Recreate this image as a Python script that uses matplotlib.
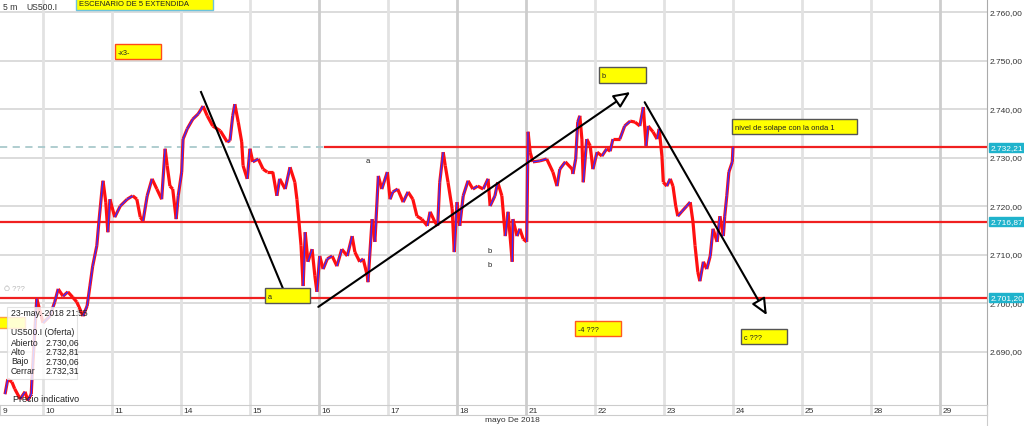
import matplotlib
matplotlib.use('Agg')
import matplotlib.pyplot as plt
from matplotlib.collections import LineCollection
from matplotlib.patches import Rectangle

plt.rcParams['font.family'] = ['Liberation Sans', 'DejaVu Sans']

# trading-day axis: 0 = 10 may, 1 = 11 may, 2 = 14 may ...
day_pos = list(range(-1, 14))
day_labels = ['9', '10', '11', '14', '15', '16', '17', '18', '21', '22', '23', '24', '25', '28', '29']
dark_days = [4, 6, 7, 13]

yticks = [2690, 2700, 2710, 2720, 2730, 2740, 2750, 2760]

# US500.I 5m closes
t = [-0.55, -0.51, -0.45, -0.41, -0.33, -0.26, -0.22, -0.17, -0.16, -0.09,
     0.00, 0.10, 0.17, 0.22, 0.29, 0.36, 0.43, 0.49, 0.58, 0.64,
     0.68, 0.72, 0.78, 0.81, 0.86, 0.87, 0.91, 0.94, 0.97, 1.04,
     1.12, 1.22, 1.30, 1.36, 1.41, 1.45, 1.51, 1.58, 1.65, 1.72,
     1.77, 1.80, 1.84, 1.88, 1.93, 1.96, 2.01, 2.03, 2.09, 2.17,
     2.25, 2.32, 2.38, 2.46, 2.57, 2.67, 2.71, 2.75, 2.78, 2.83,
     2.88, 2.90, 2.96, 3.00, 3.04, 3.12, 3.19, 3.25, 3.33, 3.39,
     3.43, 3.51, 3.58, 3.65, 3.68, 3.71, 3.74, 3.77, 3.80, 3.84,
     3.90, 3.94, 3.97, 4.01, 4.06, 4.12, 4.19, 4.26, 4.33, 4.41,
     4.48, 4.52, 4.59, 4.64, 4.70, 4.71, 4.77, 4.81, 4.86, 4.91,
     4.99, 5.03, 5.07, 5.14, 5.22, 5.29, 5.36, 5.42, 5.49, 5.57,
     5.61, 5.68, 5.72, 5.75, 5.80, 5.83, 5.87, 5.93, 5.96, 6.00,
     6.04, 6.09, 6.16, 6.23, 6.30, 6.38, 6.45, 6.48, 6.55, 6.59,
     6.65, 6.70, 6.74, 6.80, 6.81, 6.87, 6.91, 6.96, 7.01, 7.03,
     7.06, 7.10, 7.20, 7.30, 7.39, 7.45, 7.49, 7.57, 7.67, 7.68,
     7.72, 7.75, 7.78, 7.81, 7.83, 7.88, 7.93, 7.97, 8.03, 8.10,
     8.17, 8.22, 8.26, 8.36, 8.43, 8.51, 8.58, 8.65, 8.70, 8.74,
     8.77, 8.84, 8.90, 8.93, 8.97, 8.99, 9.04, 9.09, 9.13, 9.17,
     9.20, 9.26, 9.33, 9.38, 9.42, 9.45, 9.49, 9.52, 9.57, 9.62,
     9.67, 9.71, 9.77, 9.81, 9.86, 9.88, 9.91, 9.94, 9.99, 10.00]
price = [2681.3, 2684.4, 2683.8, 2682.4, 2680.3, 2681.8, 2680.0, 2681.3, 2684.4, 2701.0,
         2696.0, 2697.4, 2700.3, 2703.0, 2701.5, 2702.4, 2701.3, 2700.3, 2697.4, 2699.5,
         2703.6, 2707.7, 2711.9, 2716.8, 2724.2, 2725.3, 2720.9, 2714.7, 2721.5, 2717.8,
         2720.1, 2721.5, 2722.2, 2721.5, 2717.8, 2717.0, 2722.2, 2725.7, 2723.6, 2721.5,
         2731.9, 2728.4, 2724.2, 2723.6, 2717.4, 2722.2, 2727.1, 2733.9, 2736.0, 2738.0,
         2739.1, 2740.7, 2738.7, 2736.6, 2735.6, 2733.3, 2733.6, 2738.7, 2741.1, 2737.4,
         2733.3, 2728.4, 2725.7, 2731.9, 2729.2, 2729.8, 2727.7, 2727.1, 2727.1, 2722.2,
         2725.7, 2723.6, 2728.1, 2725.0, 2721.5, 2716.8, 2711.9, 2703.6, 2714.7, 2708.6,
         2711.2, 2705.7, 2702.4, 2709.8, 2707.1, 2709.2, 2709.8, 2707.7, 2711.2, 2709.8,
         2713.9, 2710.6, 2708.6, 2709.2, 2705.7, 2704.4, 2717.4, 2712.7, 2726.3, 2723.6,
         2727.1, 2721.5, 2723.0, 2723.6, 2720.9, 2723.0, 2721.5, 2718.0, 2717.4, 2716.0,
         2718.9, 2716.8, 2716.0, 2725.0, 2731.2, 2728.4, 2725.0, 2719.5, 2710.6, 2720.9,
         2716.0, 2722.2, 2725.3, 2723.6, 2724.2, 2723.6, 2725.7, 2720.1, 2722.2, 2725.0,
         2722.2, 2713.9, 2718.9, 2708.6, 2717.4, 2713.9, 2715.4, 2713.3, 2712.7, 2735.4,
         2731.2, 2729.2, 2729.4, 2729.8, 2727.1, 2724.2, 2727.7, 2729.2, 2727.7, 2726.7,
         2729.8, 2737.4, 2738.7, 2733.9, 2725.0, 2733.9, 2732.5, 2727.7, 2731.2, 2730.4,
         2731.9, 2731.4, 2733.9, 2733.9, 2736.6, 2737.6, 2737.4, 2736.6, 2740.5, 2732.5,
         2736.6, 2735.4, 2733.9, 2736.0, 2730.4, 2725.0, 2724.2, 2725.7, 2724.2, 2720.1,
         2718.0, 2719.0, 2720.1, 2720.9, 2716.8, 2711.9, 2706.5, 2704.6, 2708.6, 2707.1,
         2709.8, 2715.4, 2712.7, 2718.0, 2713.9, 2718.0, 2722.2, 2727.1, 2729.2, 2732.3]

levels = [2732.21, 2716.87, 2701.20]
level_labels = ['2.732,21', '2.716,87', '2.701,20']
dash_until = 4.09

# (x0, x1, y0, y1, text, edge colour)
boxes = [
    (0.48, 2.46, 2760.5, 2763.5, 'ESCENARIO DE 5 EXTENDIDA', '#6cc3dc'),
    (1.04, 1.71, 2750.4, 2753.5, '-x3-', '#ff4a1a'),
    (3.22, 3.87, 2700.1, 2703.2, 'a', '#555555'),
    (8.06, 8.74, 2745.5, 2748.8, 'b', '#555555'),
    (9.99, 11.80, 2734.9, 2738.0, 'nivel de solape con la onda 1', '#555555'),
    (7.71, 8.38, 2693.3, 2696.4, '-4 ???', '#ff5a1f'),
    (10.12, 10.78, 2691.6, 2694.7, 'c ???', '#555555'),
    (-0.95, -0.26, 2694.9, 2697.2, '', '#ffa040'),
]

# wave lines: (x0, y0, x1, y1, arrow head)
waves = [
    (2.29, 2743.6, 3.48, 2703.0, False),
    (3.99, 2699.3, 8.51, 2743.6, True),
    (8.72, 2741.5, 10.49, 2697.6, True),
]

small_marks = [(4.71, 2729.4, 'a'), (6.48, 2711.0, 'b'), (6.48, 2708.1, 'b')]

tooltip = [('Abierto', '2.730,06'), ('Alto', '2.732,81'), ('Bajo', '2.730,06'), ('Cerrar', '2.732,31')]


def fmt(v):
    s = '{:,.2f}'.format(v)
    return s.replace(',', 'X').replace('.', ',').replace('X', '.')


W, H = 1024, 427
fig = plt.figure(figsize=(W / 100, H / 100), dpi=100)
ax = fig.add_axes([0, 21 / H, 987 / W, 406 / H])
ax.set_xlim(-0.623, 13.681)
ax.set_ylim(2679.07, 2762.78)
for s in ['top', 'left', 'bottom']:
    ax.spines[s].set_visible(False)
ax.spines['right'].set_color('#aaaaaa')
ax.set_xticks([])
ax.set_yticks([])

# grid
for y in yticks:
    ax.axhline(y, color='#d6d6d6', lw=1.2, zorder=0)
for d in day_pos:
    c = '#cdcdcd' if d in dark_days else '#e2e2e2'
    ax.axvline(d, color=c, lw=2, zorder=0)

# support / resistance levels
ax.plot([-0.623, dash_until], [levels[0]] * 2, color='#a9c9cc', lw=1.3, ls=(0, (4, 3)), zorder=1)
ax.plot([dash_until, 13.681], [levels[0]] * 2, color='#f02020', lw=1.6, zorder=1)
for lv in levels[1:]:
    ax.axhline(lv, color='#f02020', lw=1.6, zorder=1)

# price line: red body with blue on up moves
pts = list(zip(t, price))
segs = [[pts[i], pts[i + 1]] for i in range(len(pts) - 1)]
ax.add_collection(LineCollection(segs, colors='#ff1010', linewidths=2.3, zorder=3))
up = [s for s in segs if s[1][1] > s[0][1]]
ax.add_collection(LineCollection(up, colors='#3a2cff', linewidths=1.0, zorder=4))

# wave lines
for x0, y0, x1, y1, head in waves:
    if head:
        ax.annotate('', xy=(x1, y1), xytext=(x0, y0), zorder=5,
                    arrowprops=dict(arrowstyle='-|>,head_length=1.0,head_width=0.45',
                                    fc='white', ec='black', lw=1.5,
                                    shrinkA=0, shrinkB=0))
    else:
        ax.plot([x0, x1], [y0, y1], color='black', lw=1.5, zorder=5)

# boxes
for x0, x1, y0, y1, txt, ec in boxes:
    ax.add_patch(Rectangle((x0, y0), x1 - x0, y1 - y0, fc='#ffff00', ec=ec, lw=1.0, zorder=6))
    if txt:
        ax.text(x0 + 0.04, (y0 + y1) / 2 - 0.2, txt, fontsize=5.2 if len(txt) < 20 else 5.5,
                va='center', ha='left', zorder=7, color='#222222')

for x, y, s in small_marks:
    ax.text(x, y, s, fontsize=5.5, ha='center', va='center', color='#222222', zorder=6)
ax.text(-0.41, 2703.0, 'Ö ???', fontsize=5.5, ha='center', va='center', color='#bbbbbb', zorder=6)

# right price axis
for y in yticks:
    ax.text(13.725, y, fmt(y), fontsize=6, ha='left', va='center', color='#333333', clip_on=False)
for lv, lab in zip(levels, level_labels):
    ax.text(13.73, lv, lab, fontsize=6, ha='left', va='center', color='white', clip_on=False,
            zorder=10, bbox=dict(boxstyle='square,pad=0.15', fc='#1fb3cc', ec='#1fb3cc'))

# date row
axl = fig.add_axes([0, 11 / H, 987 / W, 10 / H])
axl.set_xlim(ax.get_xlim())
axl.set_ylim(0, 1)
axl.set_xticks([])
axl.set_yticks([])
for s in axl.spines.values():
    s.set_color('#cccccc')
    s.set_linewidth(0.8)
for d, lab in zip(day_pos, day_labels):
    c = '#cdcdcd' if d in dark_days else '#e2e2e2'
    axl.axvline(d, color=c, lw=2)
    axl.text(max(d, -0.623) + 0.04, 0.45, lab, fontsize=6, ha='left', va='center', color='#333333')
fig.text(512 / W, 1 - 421 / H, 'mayo De 2018', fontsize=6, ha='center', va='center', color='#333333')
fig.add_artist(plt.Line2D([987 / W, 987 / W], [0, 21 / H], color='#cccccc', lw=0.8))

# header
fig.text(3 / W, 1 - 8 / H, '5 m', fontsize=6.2, ha='left', va='center', color='#333333')
fig.text(26 / W, 1 - 8 / H, 'US500.I', fontsize=6.2, ha='left', va='center', color='#333333')

# tooltip
fig.add_artist(Rectangle((7 / W, 1 - 380 / H), 70 / W, 72 / H, transform=fig.transFigure,
                         fc='white', ec='#dddddd', lw=0.8, alpha=0.82, zorder=20))
fig.text(11 / W, 1 - 314 / H, '23-may.-2018 21:55', fontsize=6.2, color='#222222', va='center', zorder=21)
fig.text(11 / W, 1 - 333 / H, 'US500.I (Oferta)', fontsize=6.2, color='#222222', va='center', zorder=21)
for i, (k, v) in enumerate(tooltip):
    yy = 1 - (343.5 + 9.2 * i) / H
    fig.text(11 / W, yy, k, fontsize=6.2, color='#222222', va='center', zorder=21)
    fig.text(46 / W, yy, v, fontsize=6.2, color='#222222', va='center', zorder=21)
fig.text(13 / W, 1 - 400 / H, 'Precio indicativo', fontsize=6.5, color='#222222', va='center', zorder=21)

fig.savefig('out.png', dpi=100)
